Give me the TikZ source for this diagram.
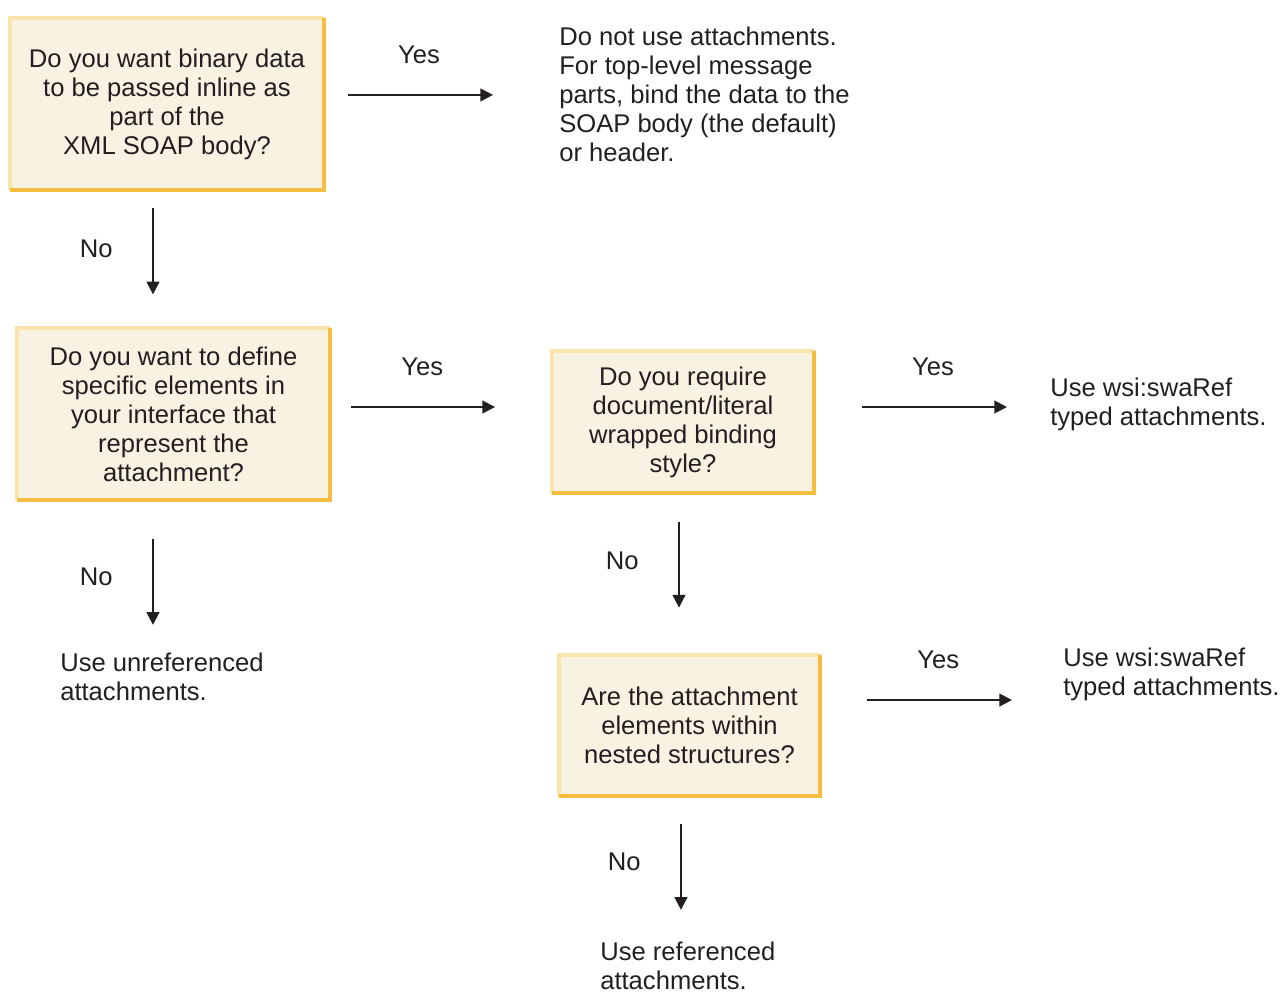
\documentclass[tikz,border=0pt]{standalone}
\usepackage{fontspec}
\setmainfont{Liberation Sans}
\usetikzlibrary{arrows.meta}

\definecolor{boxfill}{HTML}{F7F2E1}
\definecolor{edgelight}{HTML}{F9E5AC}
\definecolor{edgedark}{HTML}{F5BD3F}
\definecolor{ink}{HTML}{231F20}

\begin{document}
\begin{tikzpicture}[x=0.75pt, y=-0.75pt,
    every node/.style={font=\fontsize{19.2pt}{21.75pt}\selectfont, text=ink, inner sep=0pt},
    question/.style={fill=boxfill, align=center},
    bigbox/.style={question, minimum width=238pt, minimum height=131pt},
    smallbox/.style={question, minimum width=199pt, minimum height=109pt},
    answer/.style={align=left, anchor=west},
    arr/.style={draw=ink, line width=1.5pt, -{Triangle[length=9.5pt,width=9.5pt]}}]
    \def\bevel#1{
        \draw[edgelight, line width=3pt] ([shift={(1.5pt,1.5pt)}]#1.south west)
            -- ([shift={(1.5pt,-1.5pt)}]#1.north west) -- ([shift={(-1.5pt,-1.5pt)}]#1.north east);
        \draw[edgedark, line width=3pt] ([shift={(-1.5pt,-1.5pt)}]#1.north east)
            -- ([shift={(-1.5pt,1.5pt)}]#1.south east) -- ([shift={(1.5pt,1.5pt)}]#1.south west);
    }

    \useasboundingbox (0,0) rectangle (1281,992);

    % Questions
    \node[bigbox] (binary) at (167,104) {Do you want binary data\\to be passed inline as\\part of the\\XML SOAP body?};
    \node[bigbox] (define) at (173.5,414) {Do you want to define\\specific elements in\\your interface that\\represent the\\attachment?};
    \node[smallbox] (wrapped) at (683,422) {Do you require\\document/literal\\wrapped binding\\style?};
    \node[smallbox] (nested) at (689.5,725.5) {Are the attachment\\elements within\\nested structures?};
    \bevel{binary}
    \bevel{define}
    \bevel{wrapped}
    \bevel{nested}

    % Answers
    \node[answer] (inline) at (559,94.5) {Do not use attachments.\\For top-level message\\parts, bind the data to the\\SOAP body (the default)\\or header.};
    \node[answer] (swaref) at (1050,404) {Use wsi:swaRef\\typed attachments.};
    \node[answer] (unref) at (60,677) {Use unreferenced\\attachments.};
    \node[answer] (swarefnest) at (1063,674) {Use wsi:swaRef\\typed attachments.};
    \node[answer] (ref) at (600,966) {Use referenced\\attachments.};

    % Yes branches
    \draw[arr, shorten <=16.5pt, shorten >=49.5pt] ([yshift=6.8pt]binary.east)
        -- ([yshift=6.8pt]binary.east -| inline.west) node[midway, above=22.5pt, xshift=-17.6pt] (yes1) {Yes};
    \draw[arr, shorten <=14.25pt, shorten >=41.25pt] ([yshift=5.25pt]define.east)
        -- ([yshift=5.25pt]define.east -| wrapped.west) node[midway, above=22.5pt, xshift=-14.25pt] (yes2) {Yes};
    \draw[arr, shorten <=34.5pt, shorten >=32.25pt] ([yshift=11.25pt]wrapped.east)
        -- ([yshift=11.25pt]wrapped.east -| swaref.west) node[midway, above=22.5pt] (yes3) {Yes};
    \draw[arr, shorten <=33.75pt, shorten >=38.25pt] ([yshift=19.1pt]nested.east)
        -- ([yshift=19.1pt]nested.east -| swarefnest.west) node[midway, above=22.5pt, xshift=-3.4pt] (yes4) {Yes};

    % No branches
    \draw[arr, shorten <=12.4pt, shorten >=24pt] ([xshift=-10.5pt]binary.south)
        -- ([xshift=-10.5pt]binary.south |- define.north) node[midway, left=29.5pt, yshift=7.5pt] (no1) {No};
    \draw[arr, shorten <=27.75pt, shorten >=21pt] ([xshift=-15.4pt]define.south)
        -- ([xshift=-15.4pt]define.south |- unref.north) node[midway, left=29.5pt] (no2) {No};
    \draw[arr, shorten <=20.25pt, shorten >=33.75pt] ([xshift=-3pt]wrapped.south)
        -- ([xshift=-3pt]wrapped.south |- nested.north) node[midway, left=29.5pt, yshift=9.75pt] (no3) {No};
    \draw[arr, shorten <=19.5pt, shorten >=24pt] ([xshift=-6.4pt]nested.south)
        -- ([xshift=-6.4pt]nested.south |- ref.north) node[midway, left=29.5pt, yshift=6.4pt] (no4) {No};
\end{tikzpicture}
\end{document}
